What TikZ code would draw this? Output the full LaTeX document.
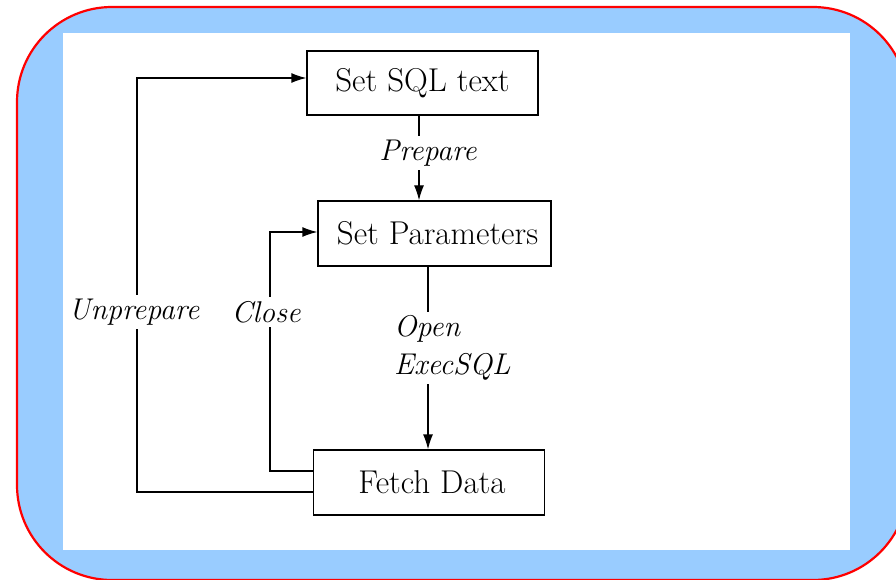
\documentclass[tikz,border=0pt]{standalone}
\usepackage{fontspec}
\usetikzlibrary{arrows.meta}
\definecolor{sky}{HTML}{99CCFF}
\begin{document}
\begin{tikzpicture}[x=1pt,y=-1pt,
  box/.style={draw, line width=1.3pt, inner sep=0pt, font=\fontsize{33}{36}\selectfont},
  lab/.style={fill=white, inner sep=4pt, font=\fontsize{30}{38}\selectfont\itshape},
  conn/.style={line width=1.3pt},
  arr/.style={conn, -{Latex[length=15pt,width=10pt]}}]
\useasboundingbox (0,0) rectangle (896,580);
\begin{scope}
  \clip (0,0) rectangle (896,580);
  \draw[red, line width=2.2pt, fill=sky, rounded corners=95pt] (17,7) rectangle (908,580);
\end{scope}
\fill[white] (63,33) rectangle (850,550);
\node[box, minimum width=231pt, minimum height=64pt] (sql) at (422.5,83) {Set SQL text};
\node[box, minimum width=233pt, minimum height=65pt] (par) at (434.5,233.5) {\hspace*{6pt}Set Parameters};
\node[box, minimum width=231pt, minimum height=65pt] (fetch) at (429,482.5) {\hspace*{6pt}Fetch Data};
\draw[arr] (419,0 |- sql.south) -- (419,0 |- par.north);
\node[lab] (prep) at (428,153) {Prepare};
\draw[arr] (428,0 |- par.south) -- (428,0 |- fetch.north);
\node[lab, align=left, anchor=west] (open) at (390,348) {Open\\ExecSQL};
\draw[arr] (fetch.west |- 0,471) -| (270,232) -- (par.west |- 0,232);
\draw[arr] (fetch.west |- 0,492) -| (137,78) -- (sql.west |- 0,78);
\node[lab] (unprep) at (134,312) {Unprepare};
\node[lab] (close) at (266,312) {Close};
\end{tikzpicture}
\end{document}
